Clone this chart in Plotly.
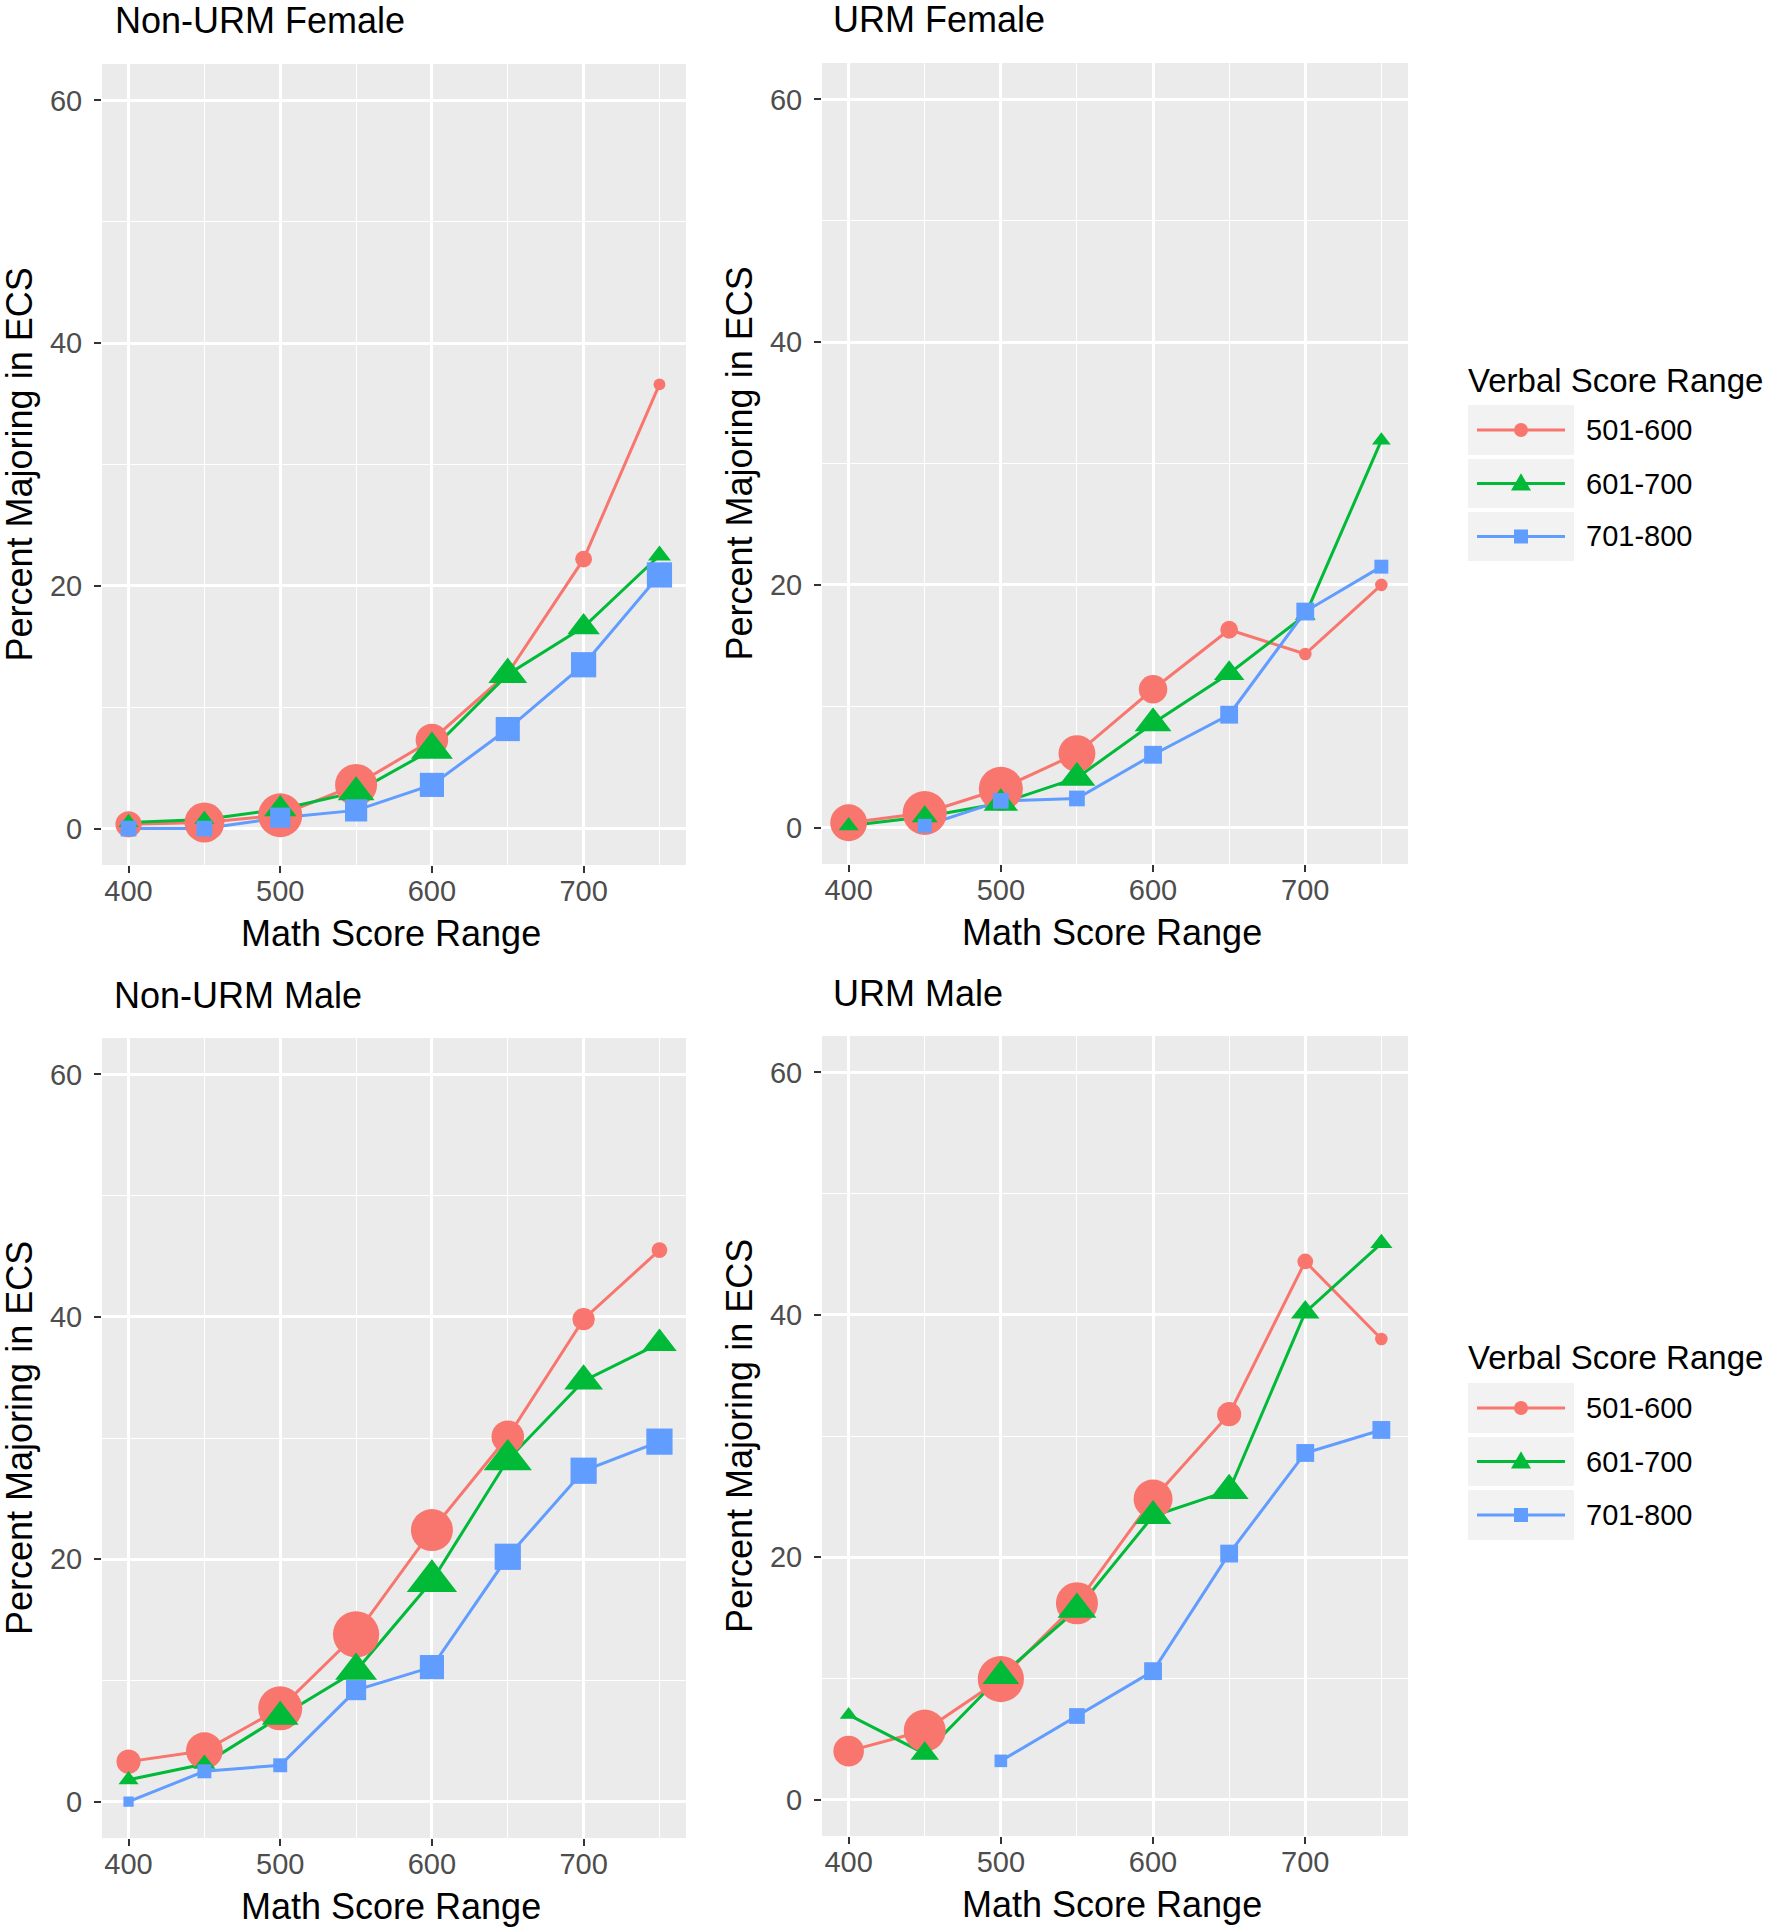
import math
import plotly.graph_objects as go

# ---------------- data ----------------
math_scores = [400, 450, 500, 550, 600, 650, 700, 750]
verbal_ranges = ["501-600", "601-700", "701-800"]
panel_titles = ["Non-URM Female", "URM Female", "Non-URM Male", "URM Male"]
x_ticks = [400, 500, 600, 700]
y_ticks = [0, 20, 40, 60]

# percent majoring in ECS
nonurm_female_501 = [0.35, 0.5, 1.1, 3.6, 7.3, 12.8, 22.2, 36.6]
nonurm_female_601 = [0.5, 0.75, 1.6, 3.0, 6.5, 12.7, 16.6, 22.5]
nonurm_female_701 = [0.0, 0.0, 0.9, 1.5, 3.6, 8.2, 13.5, 20.9]

urm_female_501 = [0.4, 1.2, 3.2, 6.1, 11.4, 16.3, 14.3, 20.0]
urm_female_601 = [0.15, 0.9, 2.0, 4.1, 8.6, 12.7, 17.5, 31.9]
urm_female_701 = [None, 0.15, 2.2, 2.4, 6.0, 9.3, 17.8, 21.5]

nonurm_male_501 = [3.3, 4.2, 7.7, 13.8, 22.4, 30.1, 39.8, 45.5]
nonurm_male_601 = [1.8, 3.1, 7.0, 10.8, 18.2, 28.2, 34.7, 37.8]
nonurm_male_701 = [0.0, 2.5, 3.0, 9.2, 11.1, 20.2, 27.3, 29.7]

urm_male_501 = [4.0, 5.7, 9.95, 16.2, 24.8, 31.8, 44.4, 38.0]
urm_male_601 = [7.0, 3.8, 10.2, 15.7, 23.4, 25.5, 40.2, 45.9]
urm_male_701 = [None, None, 3.2, 6.9, 10.6, 20.3, 28.6, 30.5]

# relative group sizes (estimated from point areas)
nonurm_female_501_n = [39, 90, 110, 100, 60, 18, 16, 8]
nonurm_female_601_n = [23, 23, 60, 77, 100, 86, 60, 30]
nonurm_female_701_n = [14, 14, 23, 28, 33, 33, 36, 36]

urm_female_501_n = [77, 110, 110, 77, 46, 18, 9, 9]
urm_female_601_n = [23, 39, 68, 77, 77, 53, 25, 20]
urm_female_701_n = [None, 11, 14, 14, 18, 18, 18, 11]

nonurm_male_501_n = [33, 77, 110, 121, 100, 60, 28, 14]
nonurm_male_601_n = [23, 28, 77, 100, 144, 132, 86, 68]
nonurm_male_701_n = [6, 11, 11, 23, 33, 39, 39, 39]

urm_male_501_n = [53, 100, 121, 100, 86, 33, 14, 9]
urm_male_601_n = [18, 46, 77, 86, 77, 86, 46, 28]
urm_male_701_n = [None, None, 9, 14, 18, 18, 18, 18]

panels = [
    ([nonurm_female_501, nonurm_female_601, nonurm_female_701],
     [nonurm_female_501_n, nonurm_female_601_n, nonurm_female_701_n]),
    ([urm_female_501, urm_female_601, urm_female_701],
     [urm_female_501_n, urm_female_601_n, urm_female_701_n]),
    ([nonurm_male_501, nonurm_male_601, nonurm_male_701],
     [nonurm_male_501_n, nonurm_male_601_n, nonurm_male_701_n]),
    ([urm_male_501, urm_male_601, urm_male_701],
     [urm_male_501_n, urm_male_601_n, urm_male_701_n]),
]

# ---------------- style ----------------
W, H = 1770, 1930
FONT = "Liberation Sans, Arial, sans-serif"
colors = ["#F8766D", "#00BA38", "#619CFF"]
symbols = ["circle", "triangle-up", "square"]
symbol_scale = [1.0, 1 / 1.155, 1.0]
SIZE_K = 4.2
PANEL_BG = "#EBEBEB"

# panel rectangles in pixels (left, right, top, bottom)
panel_px = [
    (102, 686, 64, 865),
    (822, 1408, 63, 864),
    (102, 686, 1038, 1838),
    (822, 1408, 1036, 1836),
]
title_px = [(113, 21), (831, 19), (112, 995), (831, 993)]


def px_x(v):
    return v / W


def px_y(v):
    return 1 - v / H


fig = go.Figure()

layout_axes = {}
annotations = []
shapes = []

for i, ((series, sizes), (l, r, t, b)) in enumerate(zip(panels, panel_px)):
    k = "" if i == 0 else str(i + 1)
    xa, ya = "x" + k, "y" + k
    # lines first (like geom_line), then points
    for s, vals in enumerate(series):
        fig.add_trace(go.Scatter(
            x=math_scores, y=vals, mode="lines", xaxis=xa, yaxis=ya,
            line=dict(color=colors[s], width=3.0), showlegend=False,
            hoverinfo="skip"))
    for s, vals in enumerate(series):
        msize = [0 if n is None else SIZE_K * math.sqrt(n) * symbol_scale[s]
                 for n in sizes[s]]
        fig.add_trace(go.Scatter(
            x=math_scores, y=vals, mode="markers", xaxis=xa, yaxis=ya,
            name=verbal_ranges[s], showlegend=False,
            marker=dict(color=colors[s], symbol=symbols[s], size=msize,
                        line=dict(width=0), opacity=1)))

    axis_common = dict(
        showline=False, zeroline=False, ticks="outside", ticklen=7,
        tickwidth=2, tickcolor="#333333",
        tickfont=dict(family=FONT, size=29, color="#4D4D4D"),
        showgrid=True, gridcolor="white", gridwidth=2.6,
    )
    layout_axes["xaxis" + k] = dict(
        axis_common, domain=[px_x(l), px_x(r)], anchor=ya,
        range=[382.5, 767.5], tickvals=x_ticks, ticktext=[str(v) for v in x_ticks],
        minor=dict(dtick=50, tick0=0, showgrid=True, gridcolor="white",
                   gridwidth=1.3, ticks=""),
        ticklabelstandoff=-7,
    )
    layout_axes["yaxis" + k] = dict(
        axis_common, domain=[px_y(b), px_y(t)], anchor=xa,
        range=[-3, 63], tickvals=y_ticks, ticktext=[str(v) for v in y_ticks],
        minor=dict(dtick=10, tick0=0, showgrid=True, gridcolor="white",
                   gridwidth=1.3, ticks=""),
        ticklabelstandoff=6,
    )

    # panel title
    tx, ty = title_px[i]
    annotations.append(dict(
        text=panel_titles[i], x=px_x(tx), y=px_y(ty), xref="paper", yref="paper",
        xanchor="left", yanchor="middle", showarrow=False,
        font=dict(family=FONT, size=36, color="black")))
    # axis titles
    annotations.append(dict(
        text="Math Score Range", x=px_x((l + r) / 2 - 3), y=px_y(b + 68),
        xref="paper", yref="paper", xanchor="center", yanchor="middle",
        showarrow=False, font=dict(family=FONT, size=36, color="black")))
    annotations.append(dict(
        text="Percent Majoring in ECS", x=px_x(l - 83), y=px_y((t + b) / 2),
        xref="paper", yref="paper", xanchor="center", yanchor="middle",
        textangle=-90, showarrow=False,
        font=dict(family=FONT, size=36, color="black")))

# ---------------- legends (one per row of panels) ----------------
legend_blocks = [
    dict(title_y=380, rows=[(405, 455), (459, 508), (512, 561)]),
    dict(title_y=1357, rows=[(1383, 1433), (1437, 1486), (1490, 1540)]),
]
key_l, key_r = 1468, 1574
line_l, line_r = 1477, 1565
text_l = 1584
legend_marker = [14, 20, 14]

for blk in legend_blocks:
    annotations.append(dict(
        text="Verbal Score Range", x=px_x(1466), y=px_y(blk["title_y"]),
        xref="paper", yref="paper", xanchor="left", yanchor="middle",
        showarrow=False, font=dict(family=FONT, size=33, color="black")))
    for s, (rt, rb) in enumerate(blk["rows"]):
        cy = (rt + rb) / 2
        cx = (line_l + line_r) / 2
        shapes.append(dict(type="rect", xref="paper", yref="paper",
                           x0=px_x(key_l), x1=px_x(key_r), y0=px_y(rb), y1=px_y(rt),
                           fillcolor="#F2F2F2", line=dict(width=0), layer="below"))
        shapes.append(dict(type="line", xref="paper", yref="paper",
                           x0=px_x(line_l), x1=px_x(line_r), y0=px_y(cy), y1=px_y(cy),
                           line=dict(color=colors[s], width=3.0)))
        m = legend_marker[s] / 2
        if symbols[s] == "circle":
            shapes.append(dict(type="circle", xref="paper", yref="paper",
                               x0=px_x(cx - m), x1=px_x(cx + m),
                               y0=px_y(cy + m), y1=px_y(cy - m),
                               fillcolor=colors[s], line=dict(width=0)))
        elif symbols[s] == "square":
            shapes.append(dict(type="rect", xref="paper", yref="paper",
                               x0=px_x(cx - m), x1=px_x(cx + m),
                               y0=px_y(cy + m), y1=px_y(cy - m),
                               fillcolor=colors[s], line=dict(width=0)))
        else:
            hgt = m * 1.7
            path = "M {} {} L {} {} L {} {} Z".format(
                px_x(cx - m), px_y(cy + hgt / 2.4),
                px_x(cx + m), px_y(cy + hgt / 2.4),
                px_x(cx), px_y(cy - hgt * 0.6))
            shapes.append(dict(type="path", xref="paper", yref="paper", path=path,
                               fillcolor=colors[s], line=dict(width=0)))
        annotations.append(dict(
            text=verbal_ranges[s], x=px_x(text_l), y=px_y(cy),
            xref="paper", yref="paper", xanchor="left", yanchor="middle",
            showarrow=False, font=dict(family=FONT, size=29, color="black")))

fig.update_layout(
    width=W, height=H, margin=dict(l=0, r=0, t=0, b=0),
    paper_bgcolor="white", plot_bgcolor=PANEL_BG,
    showlegend=False, annotations=annotations, shapes=shapes,
    font=dict(family=FONT),
    **layout_axes,
)

fig.write_html("out.html",
               config={"displayModeBar": False},
               post_script="document.body.style.margin='0';"
                           "document.body.style.overflow='hidden';")
